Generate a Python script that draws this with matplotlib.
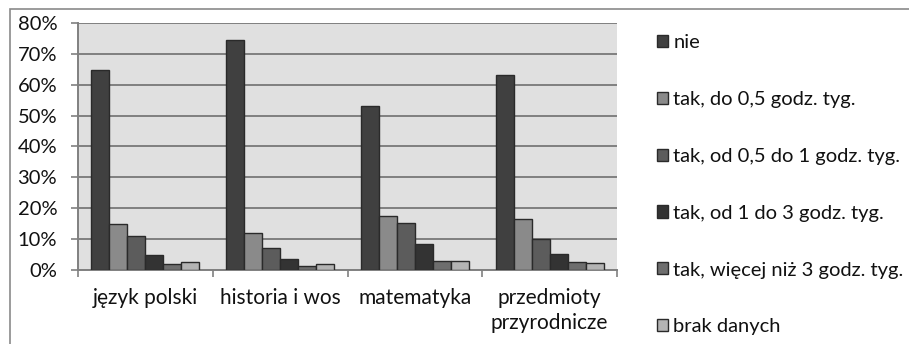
import matplotlib
matplotlib.use("Agg")
import matplotlib.pyplot as plt
import numpy as np
from matplotlib.patches import Rectangle

plt.rcParams['font.family'] = ['Lato', 'DejaVu Sans']

categories = ["język polski", "historia i wos", "matematyka", "przedmioty\nprzyrodnicze"]
series_names = ["nie", "tak, do 0,5 godz. tyg.", "tak, od 0,5 do 1 godz. tyg.",
                "tak, od 1 do 3 godz. tyg.", "tak, więcej niż 3 godz. tyg.", "brak danych"]
nie = [64.7, 74.6, 53.2, 63.3]
tak_do_05 = [14.9, 12.1, 17.6, 16.5]
tak_05_1 = [11.0, 7.0, 15.3, 9.9]
tak_1_3 = [4.8, 3.5, 8.3, 5.1]
tak_wiecej_3 = [2.0, 1.3, 3.0, 2.7]
brak = [2.7, 2.0, 3.0, 2.3]
yticks = [0, 10, 20, 30, 40, 50, 60, 70, 80]

series = [nie, tak_do_05, tak_05_1, tak_1_3, tak_wiecej_3, brak]
colors = ["#404040", "#8a8a8a", "#5c5c5c", "#333333", "#6e6e6e", "#b4b4b4"]

FS = 15
fig = plt.figure(figsize=(9.09, 3.44), dpi=100)
fig.patches.append(Rectangle((10/909, -0.1), 1.1, (344-9)/344 + 0.1, transform=fig.transFigure,
                             fill=False, edgecolor="#8a8a8a", linewidth=1.2))
ax = fig.add_axes([78/909, 1-270/344, (617-78)/909, (270-23)/344])
ax.set_facecolor("#e0e0e0")

x = np.arange(len(categories))
n = len(series)
w = 0.8 / n
for i, (vals, c, name) in enumerate(zip(series, colors, series_names)):
    ax.bar(x - 0.4 + w*(i+0.5), vals, width=w, color=c, edgecolor="#2a2a2a",
           linewidth=1.0, label=name, zorder=3)

ax.set_xlim(-0.5, len(categories)-0.5)
ax.set_ylim(0, 80)
ax.set_yticks(yticks)
ax.set_yticklabels([f"{v}%" for v in yticks], fontsize=14.5)
ax.yaxis.grid(True, color="#808080", linewidth=1.4, zorder=1)
ax.set_axisbelow(True)
ax.set_xticks(x)
ax.set_xticklabels(categories, fontsize=FS, linespacing=1.3, color="#111111")
ax.set_xticks(np.arange(-0.5, len(categories)), minor=True)
ax.tick_params(axis='x', which='major', length=0, pad=13)
ax.tick_params(axis='x', which='minor', length=5, color="#808080", width=1.2)
ax.tick_params(axis='y', length=5, color="#808080", width=1.2, pad=10, labelcolor="#111111")
for s in ["top", "right"]:
    ax.spines[s].set_visible(False)
for s in ["left", "bottom"]:
    ax.spines[s].set_color("#808080")
    ax.spines[s].set_linewidth(1.4)

LFS = 14.5
leg = fig.legend(loc="upper left", bbox_to_anchor=(649/909, 1-26/344), frameon=False,
                 fontsize=LFS, handlelength=0.55, handleheight=0.55, handletextpad=0.25,
                 labelspacing=1.98, borderaxespad=0, labelcolor="#111111")

fig.savefig("out.png", dpi=100)
